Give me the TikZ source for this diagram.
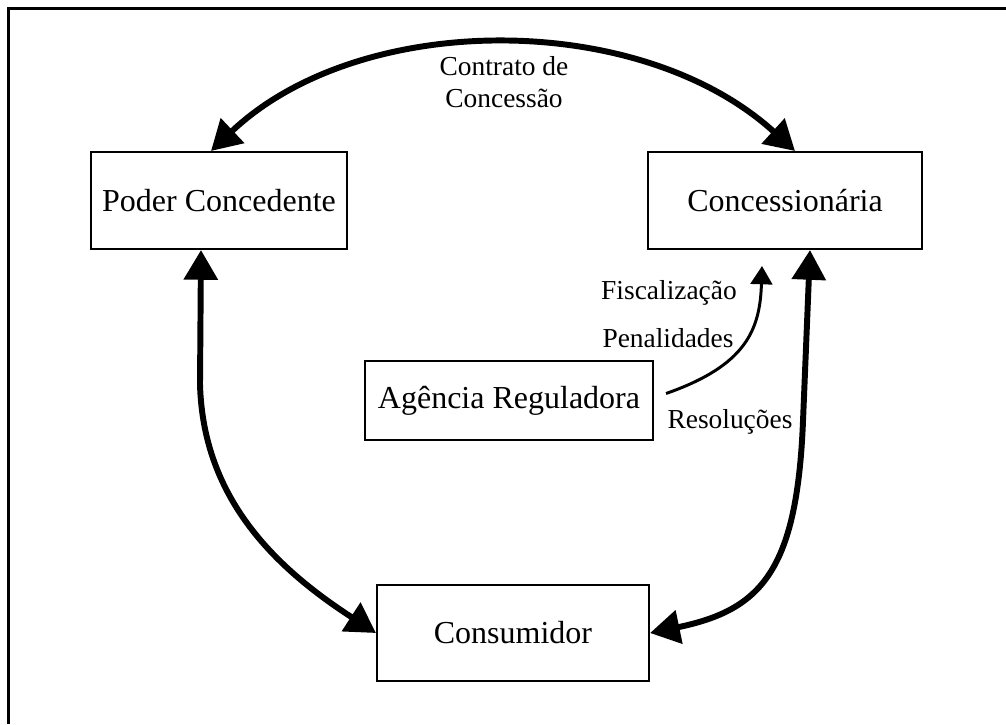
\documentclass[tikz,border=0pt]{standalone}
\usepackage{fontspec}
\setmainfont{Liberation Serif}
\usetikzlibrary{arrows.meta,calc}
\newlength\upx
\setlength\upx{0.4375pt}
\tikzset{
  box/.style={draw, line width=0.9pt, inner sep=0pt, font=\fontsize{14}{16}\selectfont},
  lbl/.style={inner sep=0pt, font=\fontsize{12}{14}\selectfont, align=center},
  bigarrow/.style={line width=2.6pt, {Triangle[width=14.5pt,length=13pt]}-{Triangle[width=14.5pt,length=13pt]}},
  thinarrow/.style={line width=1.3pt, -{Triangle[width=9.5pt,length=8pt]}},
  frame/.style={line width=1.2pt}
}
\begin{document}
\begin{tikzpicture}[x=0.4375pt,y=-0.4375pt]
\useasboundingbox (0,0) rectangle (1006,724);
\draw[frame] (8.5,724) -- (8.5,8.5) -- (1006,8.5);

\node[box, minimum width=256\upx, minimum height=97\upx] (pc) at (219,200.5) {Poder Concedente};
\node[box, minimum width=274\upx, minimum height=97\upx] (cs) at (785,200.5) {Concessionária};
\node[box, minimum width=288\upx, minimum height=79\upx] (ag) at (509,400.5) {Agência Reguladora};
\node[box, minimum width=272\upx, minimum height=96\upx] (co) at (513,633) {Consumidor};

\coordinate (fisc) at (762,266);

\draw[bigarrow] ($(pc.north)+(-8,0)$) .. controls (360,10) and (640,10) .. ($(cs.north)+(10,0)$);
\draw[bigarrow] ($(pc.south)+(-18,0)$) -- ++(-1,134) .. controls +(3,117) and +(-97,-63) .. (co.west);
\draw[bigarrow] ($(cs.south)+(25,0)$) -- ++(-7,171) .. controls +(-6,150) and +(111,-23) .. (co.east);
\draw[thinarrow] ($(ag.east)+(12,-7)$) .. controls +(80,-28) and +(-2,64) .. (fisc);

\node[lbl] (contrato) at (504,82) {Contrato de\\Concessão};
\node[lbl] (fiscal) at (669,293) {Fiscalização};
\node[lbl] (penal) at (668,338) {Penalidades};
\node[lbl] (resol) at (730,422) {Resoluções};
\end{tikzpicture}
\end{document}
